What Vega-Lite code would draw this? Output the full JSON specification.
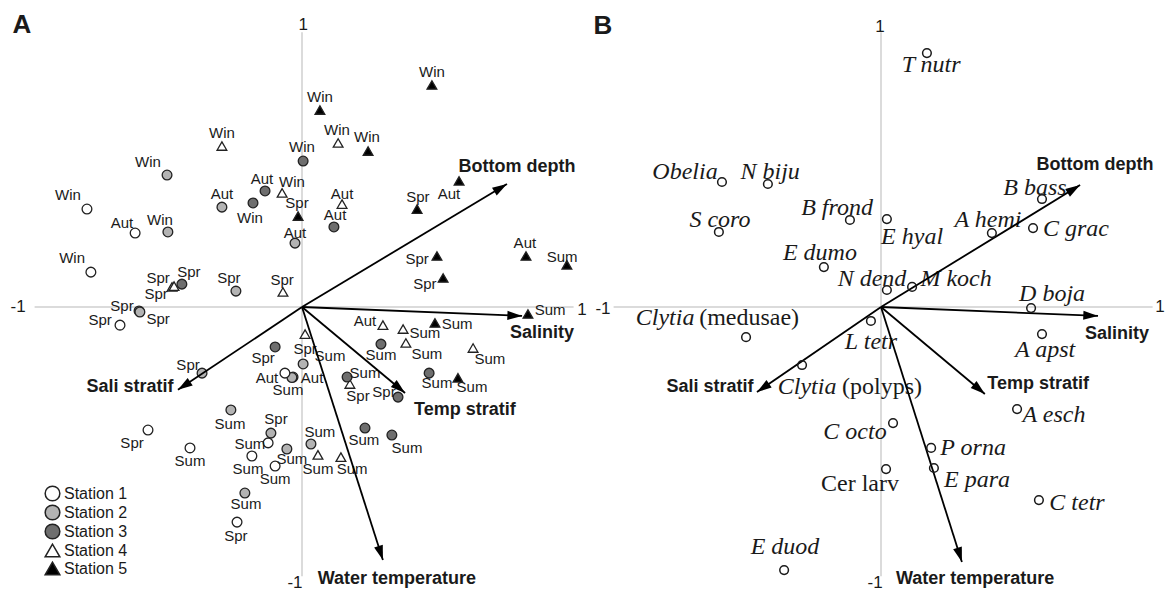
{
  "$schema": "https://vega.github.io/schema/vega-lite/v6.json",
  "padding": 0,
  "spacing": 0,
  "background": "white",
  "config": {"view": {"stroke": null}, "text": {"font": "Liberation Sans", "color": "#1a1a1a"}},
  "datasets": {
    "axes": [
      {"x": -0.955, "y": 0, "x2": 0.97, "y2": 0},
      {"x": 0, "y": -0.965, "x2": 0, "y2": 0.985}
    ],
    "sitesA": [
      {"st": "Station 5", "s": "Win", "x": 0.464, "y": 0.796, "lx": 0.464, "ly": 0.842},
      {"st": "Station 5", "s": "Win", "x": 0.064, "y": 0.706, "lx": 0.064, "ly": 0.753},
      {"st": "Station 5", "s": "Win", "x": 0.236, "y": 0.559, "lx": 0.232, "ly": 0.609},
      {"st": "Station 5", "s": "Aut", "x": 0.561, "y": 0.452, "lx": 0.525, "ly": 0.405},
      {"st": "Station 5", "s": "Spr", "x": 0.411, "y": 0.351, "lx": 0.414, "ly": 0.394},
      {"st": "Station 5", "s": "Spr", "x": -0.014, "y": 0.326, "lx": -0.018, "ly": 0.373},
      {"st": "Station 5", "s": "Spr", "x": 0.482, "y": 0.183, "lx": 0.411, "ly": 0.172},
      {"st": "Station 5", "s": "Spr", "x": 0.504, "y": 0.104, "lx": 0.439, "ly": 0.082},
      {"st": "Station 5", "s": "Aut", "x": 0.8, "y": 0.183, "lx": 0.796, "ly": 0.229},
      {"st": "Station 5", "s": "Sum", "x": 0.946, "y": 0.151, "lx": 0.929, "ly": 0.179},
      {"st": "Station 5", "s": "Sum", "x": 0.807, "y": -0.025, "lx": 0.886, "ly": -0.011},
      {"st": "Station 5", "s": "Sum", "x": 0.475, "y": -0.057, "lx": 0.554, "ly": -0.061},
      {"st": "Station 5", "s": "Sum", "x": 0.557, "y": -0.254, "lx": 0.607, "ly": -0.287},
      {"st": "Station 4", "s": "Win", "x": -0.286, "y": 0.577, "lx": -0.286, "ly": 0.624},
      {"st": "Station 4", "s": "Win", "x": 0.129, "y": 0.588, "lx": 0.125, "ly": 0.634},
      {"st": "Station 4", "s": "Win", "x": -0.071, "y": 0.409, "lx": -0.036, "ly": 0.448},
      {"st": "Station 4", "s": "Aut", "x": 0.143, "y": 0.369, "lx": 0.143, "ly": 0.405},
      {"st": "Station 4", "s": "Spr", "x": -0.464, "y": 0.072, "lx": -0.521, "ly": 0.047},
      {"st": "Station 4", "s": "Spr", "x": -0.457, "y": 0.075, "lx": -0.514, "ly": 0.104},
      {"st": "Station 4", "s": "Spr", "x": -0.068, "y": 0.054, "lx": -0.071, "ly": 0.097},
      {"st": "Station 4", "s": "Aut", "x": 0.289, "y": -0.065, "lx": 0.225, "ly": -0.05},
      {"st": "Station 4", "s": "Sum", "x": 0.361, "y": -0.079, "lx": 0.439, "ly": -0.093},
      {"st": "Station 4", "s": "Sum", "x": 0.371, "y": -0.129, "lx": 0.446, "ly": -0.168},
      {"st": "Station 4", "s": "Sum", "x": 0.611, "y": -0.147, "lx": 0.671, "ly": -0.186},
      {"st": "Station 4", "s": "Spr", "x": 0.011, "y": -0.097, "lx": 0.011, "ly": -0.151},
      {"st": "Station 4", "s": "Spr", "x": 0.171, "y": -0.276, "lx": 0.2, "ly": -0.318},
      {"st": "Station 4", "s": "Sum", "x": 0.057, "y": -0.53, "lx": 0.057, "ly": -0.581},
      {"st": "Station 4", "s": "Sum", "x": 0.139, "y": -0.538, "lx": 0.179, "ly": -0.581},
      {"st": "Station 3", "s": "Aut", "x": -0.132, "y": 0.416, "lx": -0.143, "ly": 0.459},
      {"st": "Station 3", "s": "Win", "x": 0.004, "y": 0.523, "lx": 0.0, "ly": 0.573},
      {"st": "Station 3", "s": "Win", "x": -0.175, "y": 0.373, "lx": -0.186, "ly": 0.319},
      {"st": "Station 3", "s": "Aut", "x": 0.114, "y": 0.287, "lx": 0.118, "ly": 0.33},
      {"st": "Station 3", "s": "Spr", "x": -0.429, "y": 0.082, "lx": -0.404, "ly": 0.125},
      {"st": "Station 3", "s": "Spr", "x": -0.096, "y": -0.143, "lx": -0.139, "ly": -0.183},
      {"st": "Station 3", "s": "Sum", "x": 0.282, "y": -0.133, "lx": 0.282, "ly": -0.172},
      {"st": "Station 3", "s": "Sum", "x": 0.161, "y": -0.251, "lx": 0.225, "ly": -0.237},
      {"st": "Station 3", "s": "Sum", "x": 0.454, "y": -0.237, "lx": 0.482, "ly": -0.272},
      {"st": "Station 3", "s": "Spr", "x": 0.343, "y": -0.323, "lx": 0.293, "ly": -0.305},
      {"st": "Station 3", "s": "Sum", "x": 0.225, "y": -0.434, "lx": 0.221, "ly": -0.477},
      {"st": "Station 3", "s": "Sum", "x": 0.321, "y": -0.459, "lx": 0.375, "ly": -0.505},
      {"st": "Station 2", "s": "Win", "x": -0.482, "y": 0.473, "lx": -0.55, "ly": 0.52},
      {"st": "Station 2", "s": "Win", "x": -0.479, "y": 0.269, "lx": -0.507, "ly": 0.312},
      {"st": "Station 2", "s": "Aut", "x": -0.286, "y": 0.358, "lx": -0.286, "ly": 0.405},
      {"st": "Station 2", "s": "Aut", "x": -0.025, "y": 0.229, "lx": -0.025, "ly": 0.265},
      {"st": "Station 2", "s": "Spr", "x": -0.236, "y": 0.057, "lx": -0.261, "ly": 0.104},
      {"st": "Station 2", "s": "Spr", "x": -0.582, "y": -0.014, "lx": -0.643, "ly": 0.004},
      {"st": "Station 2", "s": "Spr", "x": -0.579, "y": -0.018, "lx": -0.514, "ly": -0.043},
      {"st": "Station 2", "s": "Spr", "x": -0.357, "y": -0.237, "lx": -0.407, "ly": -0.208},
      {"st": "Station 2", "s": "Sum", "x": 0.004, "y": -0.204, "lx": 0.1, "ly": -0.176},
      {"st": "Station 2", "s": "Aut", "x": -0.032, "y": -0.251, "lx": 0.036, "ly": -0.254},
      {"st": "Station 2", "s": "Sum", "x": -0.036, "y": -0.253, "lx": -0.05, "ly": -0.297},
      {"st": "Station 2", "s": "Sum", "x": -0.254, "y": -0.369, "lx": -0.257, "ly": -0.419},
      {"st": "Station 2", "s": "Spr", "x": -0.111, "y": -0.452, "lx": -0.093, "ly": -0.401},
      {"st": "Station 2", "s": "Sum", "x": -0.054, "y": -0.509, "lx": -0.036, "ly": -0.545},
      {"st": "Station 2", "s": "Sum", "x": 0.032, "y": -0.491, "lx": 0.064, "ly": -0.448},
      {"st": "Station 2", "s": "Sum", "x": -0.204, "y": -0.667, "lx": -0.2, "ly": -0.706},
      {"st": "Station 1", "s": "Win", "x": -0.768, "y": 0.351, "lx": -0.836, "ly": 0.401},
      {"st": "Station 1", "s": "Aut", "x": -0.596, "y": 0.265, "lx": -0.643, "ly": 0.301},
      {"st": "Station 1", "s": "Win", "x": -0.754, "y": 0.125, "lx": -0.821, "ly": 0.176},
      {"st": "Station 1", "s": "Spr", "x": -0.65, "y": -0.065, "lx": -0.721, "ly": -0.047},
      {"st": "Station 1", "s": "Aut", "x": -0.061, "y": -0.237, "lx": -0.125, "ly": -0.254},
      {"st": "Station 1", "s": "Spr", "x": -0.55, "y": -0.441, "lx": -0.607, "ly": -0.487},
      {"st": "Station 1", "s": "Sum", "x": -0.4, "y": -0.505, "lx": -0.4, "ly": -0.552},
      {"st": "Station 1", "s": "Sum", "x": -0.121, "y": -0.487, "lx": -0.186, "ly": -0.491},
      {"st": "Station 1", "s": "Sum", "x": -0.179, "y": -0.534, "lx": -0.193, "ly": -0.581},
      {"st": "Station 1", "s": "Sum", "x": -0.096, "y": -0.57, "lx": -0.096, "ly": -0.616},
      {"st": "Station 1", "s": "Spr", "x": -0.232, "y": -0.771, "lx": -0.236, "ly": -0.821}
    ],
    "envA": [
      {"v": "Bottom depth", "x": 0.732, "y": 0.441, "lx": 0.768, "ly": 0.502},
      {"v": "Salinity", "x": 0.786, "y": -0.032, "lx": 0.857, "ly": -0.093},
      {"v": "Sali stratif", "x": -0.443, "y": -0.297, "lx": -0.614, "ly": -0.287},
      {"v": "Temp stratif", "x": 0.368, "y": -0.308, "lx": 0.582, "ly": -0.369},
      {"v": "Water temperature", "x": 0.289, "y": -0.907, "lx": 0.339, "ly": -0.975}
    ],
    "envB": [
      {"v": "Bottom depth", "x": 0.711, "y": 0.437, "lx": 0.764, "ly": 0.509},
      {"v": "Salinity", "x": 0.775, "y": -0.032, "lx": 0.843, "ly": -0.097},
      {"v": "Sali stratif", "x": -0.443, "y": -0.305, "lx": -0.611, "ly": -0.287},
      {"v": "Temp stratif", "x": 0.371, "y": -0.312, "lx": 0.561, "ly": -0.276},
      {"v": "Water temperature", "x": 0.289, "y": -0.914, "lx": 0.336, "ly": -0.975}
    ],
    "spB": [
      {"sp": "T nutr", "x": 0.164, "y": 0.91},
      {"sp": "Obelia", "x": -0.568, "y": 0.448},
      {"sp": "N biju", "x": -0.404, "y": 0.441},
      {"sp": "S coro", "x": -0.579, "y": 0.269},
      {"sp": "B frond", "x": -0.111, "y": 0.312},
      {"sp": "E hyal", "x": 0.021, "y": 0.315},
      {"sp": "E dumo", "x": -0.204, "y": 0.143},
      {"sp": "N dend", "x": 0.021, "y": 0.061},
      {"sp": "M koch", "x": 0.111, "y": 0.072},
      {"sp": "A hemi", "x": 0.396, "y": 0.265},
      {"sp": "C grac", "x": 0.543, "y": 0.283},
      {"sp": "B bass", "x": 0.575, "y": 0.387},
      {"sp": "D boja", "x": 0.536, "y": -0.004},
      {"sp": "A apst", "x": 0.575, "y": -0.097},
      {"sp": "L tetr", "x": -0.036, "y": -0.05},
      {"sp": "Clytia (medusae)", "x": -0.482, "y": -0.108},
      {"sp": "Clytia (polyps)", "x": -0.282, "y": -0.208},
      {"sp": "C octo", "x": 0.043, "y": -0.416},
      {"sp": "Cer larv", "x": 0.018, "y": -0.581},
      {"sp": "P orna", "x": 0.179, "y": -0.505},
      {"sp": "E para", "x": 0.189, "y": -0.577},
      {"sp": "A esch", "x": 0.486, "y": -0.366},
      {"sp": "C tetr", "x": 0.564, "y": -0.692},
      {"sp": "E duod", "x": -0.346, "y": -0.943}
    ],
    "labB": [
      {"t": "T nutr", "lx": 0.179, "ly": 0.867, "it": true},
      {"t": "Obelia", "lx": -0.7, "ly": 0.484, "it": true},
      {"t": "N biju", "lx": -0.396, "ly": 0.484, "it": true},
      {"t": "S coro", "lx": -0.575, "ly": 0.312, "it": true},
      {"t": "B frond", "lx": -0.157, "ly": 0.355, "it": true},
      {"t": "E hyal", "lx": 0.111, "ly": 0.251, "it": true},
      {"t": "E dumo", "lx": -0.218, "ly": 0.194, "it": true},
      {"t": "N dend", "lx": -0.032, "ly": 0.1, "it": true},
      {"t": "M koch", "lx": 0.268, "ly": 0.1, "it": true},
      {"t": "A hemi", "lx": 0.382, "ly": 0.312, "it": true},
      {"t": "C grac", "lx": 0.696, "ly": 0.28, "it": true},
      {"t": "B bass", "lx": 0.55, "ly": 0.427, "it": true},
      {"t": "D boja", "lx": 0.611, "ly": 0.047, "it": true},
      {"t": "A apst", "lx": 0.586, "ly": -0.154, "it": true},
      {"t": "L tetr", "lx": -0.036, "ly": -0.125, "it": true},
      {"t": "Clytia", "lx": -0.771, "ly": -0.039, "it": true},
      {"t": "(medusae)", "lx": -0.471, "ly": -0.039, "it": false},
      {"t": "Clytia", "lx": -0.264, "ly": -0.287, "it": true},
      {"t": "(polyps)", "lx": 0.004, "ly": -0.287, "it": false},
      {"t": "C octo", "lx": -0.093, "ly": -0.448, "it": true},
      {"t": "Cer larv", "lx": -0.075, "ly": -0.634, "it": false},
      {"t": "P orna", "lx": 0.329, "ly": -0.505, "it": true},
      {"t": "E para", "lx": 0.343, "ly": -0.62, "it": true},
      {"t": "A esch", "lx": 0.618, "ly": -0.387, "it": true},
      {"t": "C tetr", "lx": 0.7, "ly": -0.703, "it": true},
      {"t": "E duod", "lx": -0.343, "ly": -0.86, "it": true}
    ]
  },
  "hconcat": [
    {
      "width": 590,
      "height": 592,
      "layer": [
        {
          "data": {"name": "axes"},
          "mark": {"type": "rule", "color": "#cfcfcf", "strokeWidth": 1.5},
          "encoding": {
            "x": {"field": "x", "type": "quantitative", "axis": null, "scale": {"domain": [-1.0786, 1.0286], "nice": false, "zero": false}},
            "y": {"field": "y", "type": "quantitative", "axis": null, "scale": {"domain": [-1.0215, 1.1004], "nice": false, "zero": false}},
            "x2": {"field": "x2"},
            "y2": {"field": "y2"}
          }
        },
        {
          "data": {"values": [
            {"t": "1", "x": 0.004, "y": 1.011},
            {"t": "-1", "x": -1.014, "y": 0.0},
            {"t": "1", "x": 1.0, "y": -0.01},
            {"t": "-1", "x": -0.025, "y": -0.989}
          ]},
          "mark": {"type": "text", "fontSize": 17, "align": "center", "baseline": "middle"},
          "encoding": {
            "x": {"field": "x", "type": "quantitative", "axis": null, "scale": {"domain": [-1.0786, 1.0286], "nice": false, "zero": false}},
            "y": {"field": "y", "type": "quantitative", "axis": null, "scale": {"domain": [-1.0215, 1.1004], "nice": false, "zero": false}},
            "text": {"field": "t"}
          }
        },
        {
          "data": {"values": [{"t": "A", "x": -1.0, "y": 1.011}]},
          "mark": {"type": "text", "fontSize": 26, "fontWeight": "bold", "align": "center", "baseline": "middle"},
          "encoding": {
            "x": {"field": "x", "type": "quantitative", "axis": null, "scale": {"domain": [-1.0786, 1.0286], "nice": false, "zero": false}},
            "y": {"field": "y", "type": "quantitative", "axis": null, "scale": {"domain": [-1.0215, 1.1004], "nice": false, "zero": false}},
            "text": {"field": "t"}
          }
        },
        {
          "data": {"name": "sitesA"},
          "mark": {"type": "point", "filled": true, "size": 95, "stroke": "#222222", "strokeWidth": 1.3, "opacity": 1},
          "encoding": {
            "x": {"field": "x", "type": "quantitative", "axis": null, "scale": {"domain": [-1.0786, 1.0286], "nice": false, "zero": false}},
            "y": {"field": "y", "type": "quantitative", "axis": null, "scale": {"domain": [-1.0215, 1.1004], "nice": false, "zero": false}},
            "shape": {"field": "st", "type": "nominal", "scale": {"domain": ["Station 1", "Station 2", "Station 3", "Station 4", "Station 5"], "range": ["circle", "circle", "circle", "triangle-up", "triangle-up"]},
              "legend": {"title": null, "orient": "none", "legendX": 44, "legendY": 485, "padding": 0, "symbolSize": 215, "labelFontSize": 16, "labelFont": "Liberation Sans", "labelColor": "#1a1a1a", "rowPadding": -2, "labelOffset": 3,
                "encode": {"symbols": {"update": {"stroke": {"value": "#222222"}, "strokeWidth": {"value": 1.5}, "opacity": {"value": 1}}}}}},
            "fill": {"field": "st", "type": "nominal", "scale": {"domain": ["Station 1", "Station 2", "Station 3", "Station 4", "Station 5"], "range": ["#ffffff", "#b3b3b3", "#6e6e6e", "#ffffff", "#000000"]},
              "legend": {"title": null, "orient": "none", "legendX": 44, "legendY": 485, "padding": 0, "symbolSize": 215, "labelFontSize": 16, "labelFont": "Liberation Sans", "labelColor": "#1a1a1a", "rowPadding": -2, "labelOffset": 3,
                "encode": {"symbols": {"update": {"stroke": {"value": "#222222"}, "strokeWidth": {"value": 1.5}, "opacity": {"value": 1}}}}}}
          }
        },
        {
          "data": {"name": "sitesA"},
          "mark": {"type": "text", "fontSize": 15, "align": "center", "baseline": "middle"},
          "encoding": {
            "x": {"field": "lx", "type": "quantitative", "axis": null, "scale": {"domain": [-1.0786, 1.0286], "nice": false, "zero": false}},
            "y": {"field": "ly", "type": "quantitative", "axis": null, "scale": {"domain": [-1.0215, 1.1004], "nice": false, "zero": false}},
            "text": {"field": "s"}
          }
        },
        {
          "data": {"name": "envA"},
          "mark": {"type": "rule", "color": "#000000", "strokeWidth": 1.8},
          "encoding": {
            "x": {"field": "x", "type": "quantitative", "axis": null, "scale": {"domain": [-1.0786, 1.0286], "nice": false, "zero": false}},
            "y": {"field": "y", "type": "quantitative", "axis": null, "scale": {"domain": [-1.0215, 1.1004], "nice": false, "zero": false}},
            "x2": {"datum": 0},
            "y2": {"datum": 0}
          }
        },
        {
          "data": {"name": "envA"},
          "transform": [{"calculate": "atan2(datum.x, datum.y) * 180 / PI", "as": "ang"}],
          "mark": {"type": "point", "shape": "M0,0L-0.65,2.1L0.65,2.1Z", "filled": true, "color": "#000000", "size": 196, "opacity": 1},
          "encoding": {
            "x": {"field": "x", "type": "quantitative", "axis": null, "scale": {"domain": [-1.0786, 1.0286], "nice": false, "zero": false}},
            "y": {"field": "y", "type": "quantitative", "axis": null, "scale": {"domain": [-1.0215, 1.1004], "nice": false, "zero": false}},
            "angle": {"field": "ang", "type": "quantitative", "scale": null}
          }
        },
        {
          "data": {"name": "envA"},
          "mark": {"type": "text", "fontSize": 18, "fontWeight": "bold", "align": "center", "baseline": "middle"},
          "encoding": {
            "x": {"field": "lx", "type": "quantitative", "axis": null, "scale": {"domain": [-1.0786, 1.0286], "nice": false, "zero": false}},
            "y": {"field": "ly", "type": "quantitative", "axis": null, "scale": {"domain": [-1.0215, 1.1004], "nice": false, "zero": false}},
            "text": {"field": "v"}
          }
        }
      ]
    },
    {
      "width": 575,
      "height": 592,
      "layer": [
        {
          "data": {"name": "axes"},
          "mark": {"type": "rule", "color": "#cfcfcf", "strokeWidth": 1.5},
          "encoding": {
            "x": {"field": "x", "type": "quantitative", "axis": null, "scale": {"domain": [-1.0393, 1.0143], "nice": false, "zero": false}},
            "y": {"field": "y", "type": "quantitative", "axis": null, "scale": {"domain": [-1.0215, 1.1004], "nice": false, "zero": false}},
            "x2": {"field": "x2"},
            "y2": {"field": "y2"}
          }
        },
        {
          "data": {"values": [
            {"t": "1", "x": -0.004, "y": 1.004},
            {"t": "-1", "x": -0.993, "y": -0.007},
            {"t": "1", "x": 0.996, "y": 0.0},
            {"t": "-1", "x": -0.021, "y": -0.989}
          ]},
          "mark": {"type": "text", "fontSize": 17, "align": "center", "baseline": "middle"},
          "encoding": {
            "x": {"field": "x", "type": "quantitative", "axis": null, "scale": {"domain": [-1.0393, 1.0143], "nice": false, "zero": false}},
            "y": {"field": "y", "type": "quantitative", "axis": null, "scale": {"domain": [-1.0215, 1.1004], "nice": false, "zero": false}},
            "text": {"field": "t"}
          }
        },
        {
          "data": {"values": [{"t": "B", "x": -0.993, "y": 1.007}]},
          "mark": {"type": "text", "fontSize": 26, "fontWeight": "bold", "align": "center", "baseline": "middle"},
          "encoding": {
            "x": {"field": "x", "type": "quantitative", "axis": null, "scale": {"domain": [-1.0393, 1.0143], "nice": false, "zero": false}},
            "y": {"field": "y", "type": "quantitative", "axis": null, "scale": {"domain": [-1.0215, 1.1004], "nice": false, "zero": false}},
            "text": {"field": "t"}
          }
        },
        {
          "data": {"name": "labB"},
          "transform": [{"filter": "datum.it"}],
          "mark": {"type": "text", "font": "Liberation Serif", "fontStyle": "italic", "fontSize": 24, "align": "center", "baseline": "middle"},
          "encoding": {
            "x": {"field": "lx", "type": "quantitative", "axis": null, "scale": {"domain": [-1.0393, 1.0143], "nice": false, "zero": false}},
            "y": {"field": "ly", "type": "quantitative", "axis": null, "scale": {"domain": [-1.0215, 1.1004], "nice": false, "zero": false}},
            "text": {"field": "t"}
          }
        },
        {
          "data": {"name": "labB"},
          "transform": [{"filter": "!datum.it"}],
          "mark": {"type": "text", "font": "Liberation Serif", "fontSize": 24, "align": "center", "baseline": "middle"},
          "encoding": {
            "x": {"field": "lx", "type": "quantitative", "axis": null, "scale": {"domain": [-1.0393, 1.0143], "nice": false, "zero": false}},
            "y": {"field": "ly", "type": "quantitative", "axis": null, "scale": {"domain": [-1.0215, 1.1004], "nice": false, "zero": false}},
            "text": {"field": "t"}
          }
        },
        {
          "data": {"name": "envB"},
          "mark": {"type": "rule", "color": "#000000", "strokeWidth": 1.8},
          "encoding": {
            "x": {"field": "x", "type": "quantitative", "axis": null, "scale": {"domain": [-1.0393, 1.0143], "nice": false, "zero": false}},
            "y": {"field": "y", "type": "quantitative", "axis": null, "scale": {"domain": [-1.0215, 1.1004], "nice": false, "zero": false}},
            "x2": {"datum": 0},
            "y2": {"datum": 0}
          }
        },
        {
          "data": {"name": "envB"},
          "transform": [{"calculate": "atan2(datum.x, datum.y) * 180 / PI", "as": "ang"}],
          "mark": {"type": "point", "shape": "M0,0L-0.65,2.1L0.65,2.1Z", "filled": true, "color": "#000000", "size": 196, "opacity": 1},
          "encoding": {
            "x": {"field": "x", "type": "quantitative", "axis": null, "scale": {"domain": [-1.0393, 1.0143], "nice": false, "zero": false}},
            "y": {"field": "y", "type": "quantitative", "axis": null, "scale": {"domain": [-1.0215, 1.1004], "nice": false, "zero": false}},
            "angle": {"field": "ang", "type": "quantitative", "scale": null}
          }
        },
        {
          "data": {"name": "spB"},
          "mark": {"type": "point", "shape": "circle", "filled": false, "size": 75, "stroke": "#1a1a1a", "strokeWidth": 1.5, "opacity": 1},
          "encoding": {
            "x": {"field": "x", "type": "quantitative", "axis": null, "scale": {"domain": [-1.0393, 1.0143], "nice": false, "zero": false}},
            "y": {"field": "y", "type": "quantitative", "axis": null, "scale": {"domain": [-1.0215, 1.1004], "nice": false, "zero": false}}
          }
        },
        {
          "data": {"name": "envB"},
          "mark": {"type": "text", "fontSize": 18, "fontWeight": "bold", "align": "center", "baseline": "middle"},
          "encoding": {
            "x": {"field": "lx", "type": "quantitative", "axis": null, "scale": {"domain": [-1.0393, 1.0143], "nice": false, "zero": false}},
            "y": {"field": "ly", "type": "quantitative", "axis": null, "scale": {"domain": [-1.0215, 1.1004], "nice": false, "zero": false}},
            "text": {"field": "v"}
          }
        }
      ]
    }
  ]
}
